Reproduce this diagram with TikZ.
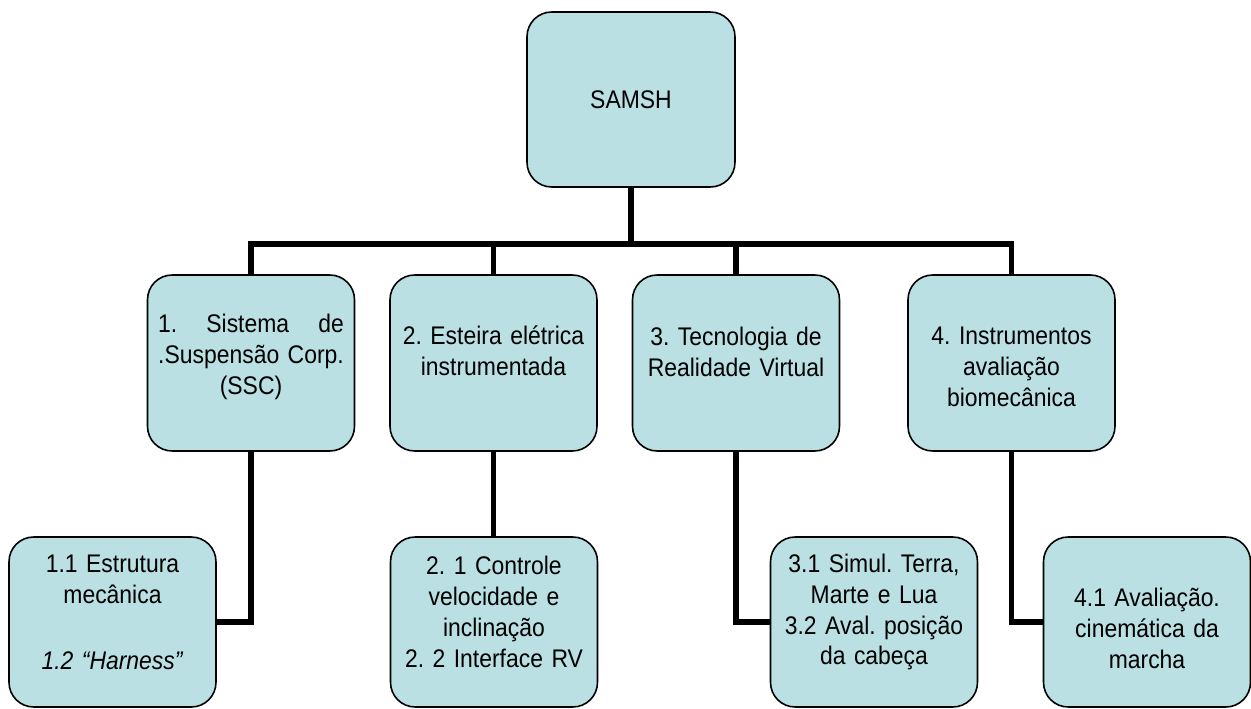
\documentclass[tikz,border=0pt]{standalone}
\usepackage{fontspec}
\setmainfont{Liberation Sans}[FakeStretch=0.9]
\usepackage{calc}
\frenchspacing
\definecolor{boxfill}{RGB}{186,224,227}
\tikzset{
  box/.style={draw, line width=0.9pt, fill=boxfill, rounded corners=14pt,
    inner sep=0pt, align=center, minimum width=4.14cm, minimum height=3.52cm,
    text width=4.14cm, font=\fontsize{14.5}{17.6}\selectfont},
  subbox/.style={box, minimum height=3.4cm},
  conn/.style={line width=3.4pt},
  lift/.style={execute at end node={\par\vspace*{#1}}}
}

\begin{document}
\begin{tikzpicture}[x=0.02cm, y=-0.02cm]
  \useasboundingbox (0,0) rectangle (1251,709);

  \node[box, minimum width=4.16cm, minimum height=3.5cm] (samsh) at (631,99.5) {SAMSH};

  \node[box, lift=6.8pt] (a1) at (251,363)
    {\makebox[\widthof{.Suspensão Corp.}][s]{1.\hfill Sistema\hfill de}\\.Suspensão Corp.\\(SSC)};
  \node[box, lift=13.6pt] (a2) at (493.5,363) {2. Esteira elétrica\\instrumentada};
  \node[box, lift=12.5pt] (a3) at (736,363) {3. Tecnologia de\\Realidade Virtual};
  \node[box, lift=-4.5pt] (a4) at (1011.5,363) {4. Instrumentos\\avaliação\\biomecânica};

  \node[subbox, lift=11.3pt] (b1) at (112.5,622)
    {1.1 Estrutura\\mecânica\\[20pt]\textit{1.2 “Harness”}};
  \node[subbox, lift=11.3pt] (b2) at (494,622)
    {2. 1 Controle\\velocidade e\\inclinação\\2. 2 Interface RV};
  \node[subbox, lift=11.3pt] (b3) at (874,622)
    {3.1 Simul. Terra,\\Marte e Lua\\3.2 Aval. posição\\da cabeça};
  \node[subbox, lift=-6.8pt] (b4) at (1147,622)
    {4.1 Avaliação.\\cinemática da\\marcha};

  \coordinate (bar) at (631,244);
  \draw[conn] (samsh.south) -- (samsh.south |- bar);
  \draw[conn] (a1.north) -- (a1.north |- bar) -- (a4.north |- bar) -- (a4.north);
  \draw[conn] (a2.north) -- (a2.north |- bar);
  \draw[conn] (a3.north) -- (a3.north |- bar);

  \draw[conn] (a1.south) |- (b1.east);
  \draw[conn] (a2.south) -- (a2.south |- b2.north);
  \draw[conn] (a3.south) |- (b3.west);
  \draw[conn] (a4.south) |- (b4.west);
\end{tikzpicture}
\end{document}
